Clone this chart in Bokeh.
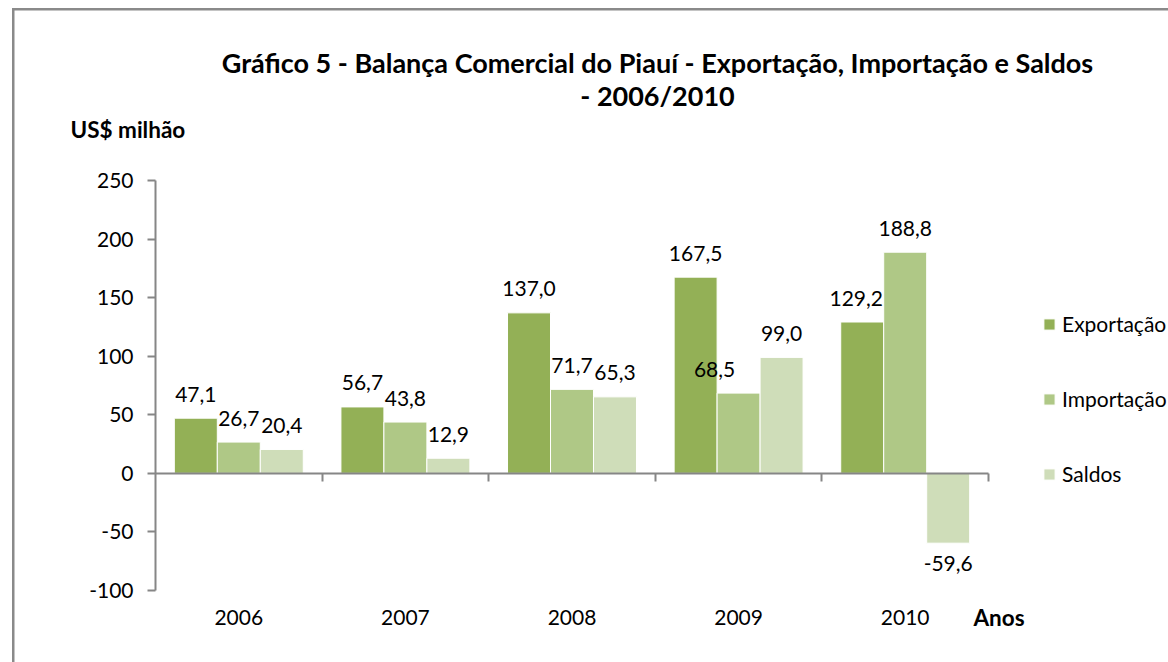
from bokeh.plotting import figure
from bokeh.models import (ColumnDataSource, Range1d, FixedTicker, Label, LabelSet,
                          Legend, LegendItem, BoxAnnotation, LinearAxis)
from bokeh.core.properties import value
from bokeh.embed import file_html
from bokeh.resources import INLINE
import numpy as np

years = ["2006", "2007", "2008", "2009", "2010"]
exportacao = [47.1, 56.7, 137.0, 167.5, 129.2]
importacao = [26.7, 43.8, 71.7, 68.5, 188.8]
saldos = [20.4, 12.9, 65.3, 99.0, -59.6]
series_names = ["Exportação", "Importação", "Saldos"]
series_values = [exportacao, importacao, saldos]
colors = ["#93B056", "#AFC886", "#CFDDB9"]
y_ticks = [-100, -50, 0, 50, 100, 150, 200, 250]
y_min, y_max = -100, 250

FONT = "Lato"
GRAY = "#868686"
FS = "21px"
W, H = 1168, 662
# plot-area placement (pixels in the canvas)
AX_L, AX_R, AX_T, AX_B = 155, 988, 180, 590
n = len(years)
kx = (AX_R - AX_L) / n
ky = (AX_B - AX_T) / (y_max - y_min)

p = figure(width=W, height=H, output_backend="svg", toolbar_location=None, title=None,
           x_axis_location=None, y_axis_location=None,
           x_range=Range1d(-AX_L / kx, (W - AX_L) / kx),
           y_range=Range1d(y_min - (H - AX_B) / ky, y_max + AX_T / ky))
p.min_border = 0
p.min_border_left = p.min_border_right = p.min_border_top = p.min_border_bottom = 0
p.outline_line_color = None
p.grid.visible = False
p.background_fill_color = "white"
p.border_fill_color = "white"

centers = np.arange(n) + 0.5
bw = 0.258
offsets = [-bw, 0.0, bw]
label_nudge_x = {("Importação", "2009"): -24, ("Exportação", "2010"): -6}

renderers = []
lx, ly, lt, lo, lox = [], [], [], [], []
for name, vals, col, off in zip(series_names, series_values, colors, offsets):
    src = ColumnDataSource(dict(x=centers + off, top=vals))
    r = p.vbar(x="x", top="top", bottom=0, width=bw, source=src,
               fill_color=col, line_color="white", line_width=1)
    renderers.append((name, r))
    for yr, cx, v in zip(years, centers + off, vals):
        lx.append(cx)
        ly.append(v)
        lt.append(f"{v:.1f}".replace(".", ","))
        lo.append(24 if v >= 0 else -20)
        lox.append(label_nudge_x.get((name, yr), 0))

lsrc = ColumnDataSource(dict(x=lx, y=ly, t=lt, o=lo, ox=lox))
p.add_layout(LabelSet(x="x", y="y", text="t", y_offset="o", x_offset="ox", source=lsrc,
                      text_align="center", text_baseline="middle",
                      text_font=value(FONT), text_font_size=FS, text_color="black"))

# y axis
ya = LinearAxis(fixed_location=0, bounds=(y_min, y_max), ticker=FixedTicker(ticks=y_ticks))
ya.major_label_overrides = {t: str(t) for t in y_ticks}
ya.axis_line_color = GRAY
ya.axis_line_width = 2
ya.major_tick_line_color = GRAY
ya.major_tick_line_width = 2
ya.major_tick_out = 8
ya.major_tick_in = 0
ya.minor_tick_line_color = None
ya.major_label_standoff = 14
ya.major_label_text_font = FONT
ya.major_label_text_font_size = FS
ya.major_label_text_color = "black"
p.add_layout(ya, "left")

# category axis line on the zero level with boundary ticks
bounds = list(range(1, n + 1))
xa0 = LinearAxis(fixed_location=0, bounds=(0, n), ticker=FixedTicker(ticks=bounds))
xa0.major_label_overrides = {b: "" for b in bounds}
xa0.axis_line_color = GRAY
xa0.axis_line_width = 2
xa0.major_tick_line_color = GRAY
xa0.major_tick_line_width = 2
xa0.major_tick_out = 8
xa0.major_tick_in = 0
xa0.minor_tick_line_color = None
p.add_layout(xa0, "below")

# category labels at the low end
xa = LinearAxis(fixed_location=y_min, bounds=(0, n), ticker=FixedTicker(ticks=list(centers)))
xa.major_label_overrides = {float(c): y for c, y in zip(centers, years)}
xa.axis_line_color = None
xa.major_tick_line_color = None
xa.major_tick_out = 0
xa.minor_tick_line_color = None
xa.major_label_standoff = 19
xa.major_label_text_font = FONT
xa.major_label_text_font_size = FS
xa.major_label_text_color = "black"
p.add_layout(xa, "below")

# texts (screen units from the bottom-left of the canvas)
def lab(text, x, y, size, align="left", bold=True):
    p.add_layout(Label(x=x, y=H - y, x_units="screen", y_units="screen", text=text,
                       text_align=align, text_baseline="middle", text_font=FONT,
                       text_font_size=size, text_font_style="bold" if bold else "normal",
                       text_color="black"))

lab("Gráfico 5 - Balança Comercial do Piauí - Exportação, Importação e Saldos", 657, 62, "27px", "center")
lab("- 2006/2010", 657, 95, "27px", "center")
lab("US$ milhão", 70, 129, "22.5px")
lab("Anos", 973, 617, "22.5px")

# legend
legend = Legend(items=[LegendItem(label=nm, renderers=[r]) for nm, r in renderers],
                location=(1042, H - 486), orientation="vertical",
                glyph_width=14, glyph_height=14, label_height=20, spacing=50,
                label_standoff=6, padding=0, margin=0,
                border_line_color=None, background_fill_alpha=0,
                label_text_font=FONT, label_text_font_size=FS, label_text_color="black")
p.add_layout(legend, "center")

# outer chart border (left and top edges visible)
BORDER = "#8a8a8a"
p.add_layout(BoxAnnotation(left=11.5, right=14, top=H - 8, bottom=-10,
                           left_units="screen", right_units="screen",
                           top_units="screen", bottom_units="screen",
                           fill_color=BORDER, fill_alpha=1, line_color=None))
p.add_layout(BoxAnnotation(left=11.5, right=W + 10, top=H - 7.5, bottom=H - 10,
                           left_units="screen", right_units="screen",
                           top_units="screen", bottom_units="screen",
                           fill_color=BORDER, fill_alpha=1, line_color=None))

open("out.html", "w").write(file_html(p, INLINE))
